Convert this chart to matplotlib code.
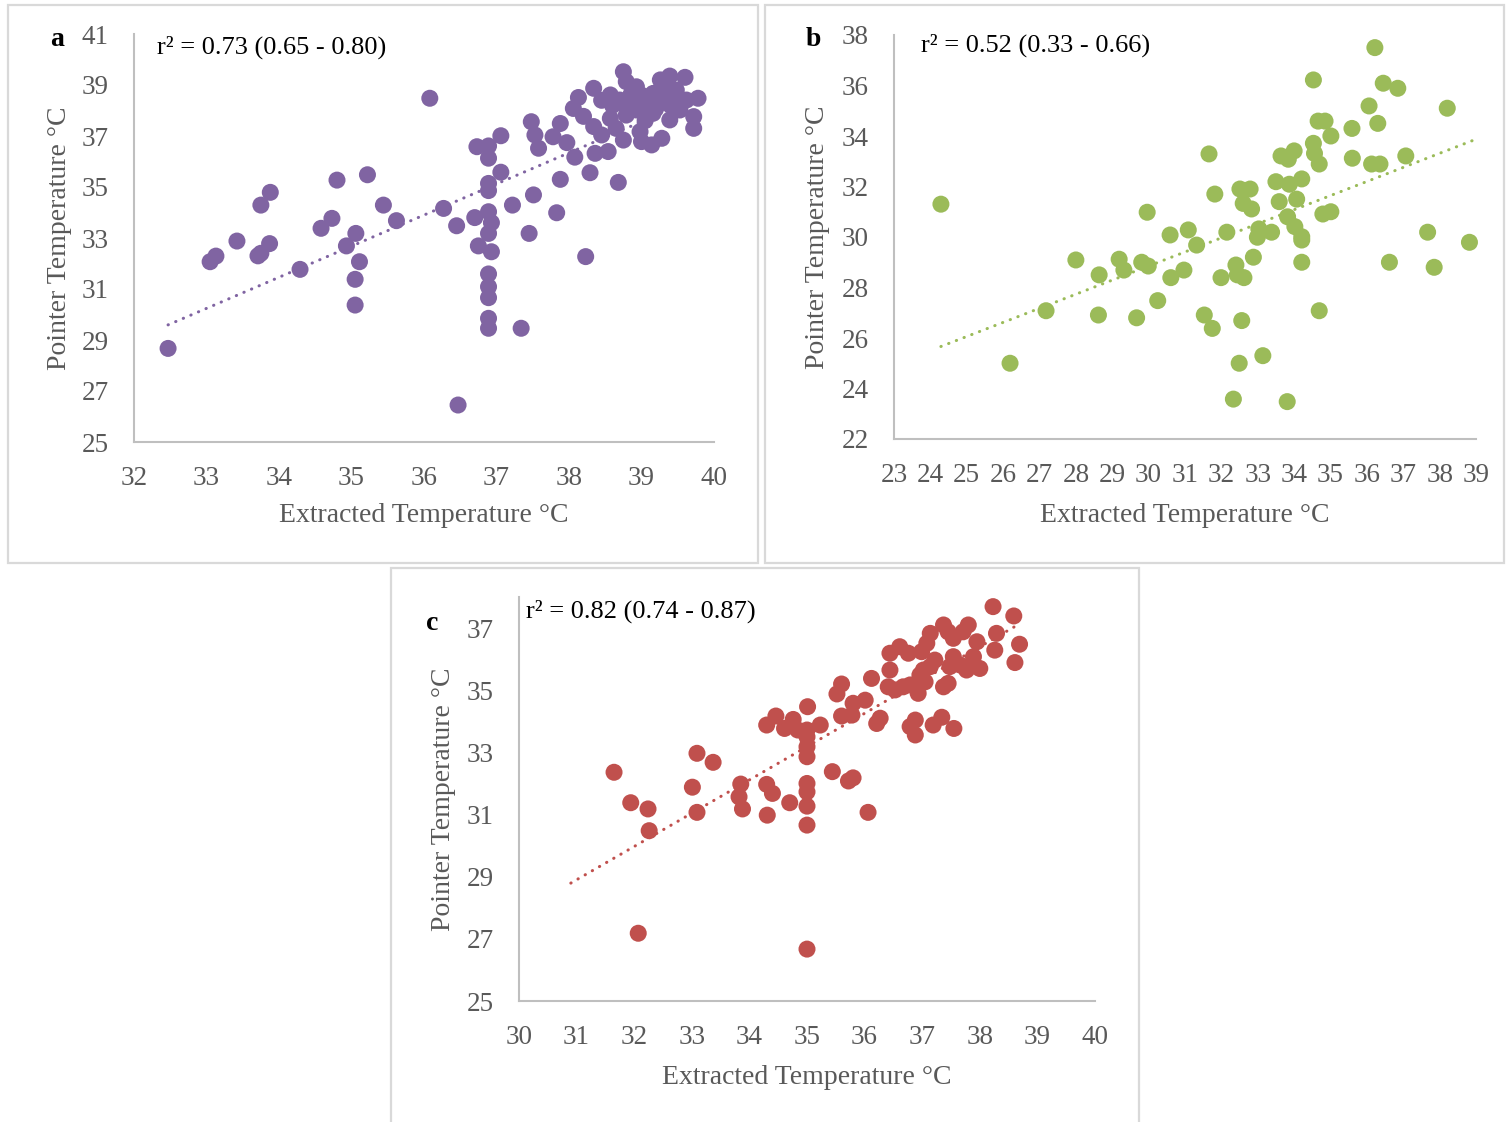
import matplotlib
matplotlib.use("Agg")
import matplotlib.pyplot as plt
from matplotlib.patches import Rectangle
import numpy as np

plt.rcParams['font.family'] = ['Liberation Serif', 'DejaVu Serif']

# ---- panel a: purple ----
a_x = [32.47, 33.05, 33.13, 33.42, 33.75, 33.88, 33.71, 33.75, 33.87, 34.29,
       34.58, 34.73, 34.80, 35.22, 35.44, 35.62, 35.06, 34.93, 35.11, 35.05,
       35.05, 36.08, 36.27, 36.45, 36.47, 36.73, 36.89, 36.89, 37.06, 37.06,
       36.89, 36.89, 36.70, 36.89, 36.93, 36.89, 36.75, 36.93, 36.89, 36.89,
       36.89, 36.89, 36.89, 37.34, 37.22, 37.51, 37.83, 37.45, 38.23, 37.88,
       38.68, 37.48, 37.53, 37.58, 37.78, 37.88, 37.97, 38.08, 38.29, 38.36,
       38.54, 38.06, 38.13, 38.34, 38.20, 38.34, 38.45, 38.75, 38.79, 38.57,
       38.57, 38.75, 38.98, 39.00, 39.14, 39.28, 38.93, 39.12, 39.26, 39.39,
       39.60, 39.48, 39.62, 39.78, 39.72, 39.72, 39.39, 39.07, 38.89, 39.16,
       38.93, 38.70, 39.30, 39.53, 39.16, 38.79, 39.00, 39.20, 38.80, 39.40,
       38.60, 38.85, 39.05, 38.65, 39.35, 39.50, 38.45]
a_y = [28.67, 32.07, 32.29, 32.88, 34.29, 34.79, 32.30, 32.40, 32.78, 31.77,
       33.38, 33.77, 35.27, 35.48, 34.29, 33.68, 33.18, 32.69, 32.07, 31.38,
       30.37, 38.48, 34.16, 33.48, 26.45, 36.58, 36.61, 36.13, 37.01, 35.58,
       35.14, 34.86, 33.80, 34.03, 33.60, 33.18, 32.69, 32.46, 31.59, 31.09,
       30.66, 29.85, 29.46, 29.46, 34.29, 34.69, 33.99, 33.18, 32.27, 35.30,
       35.18, 37.56, 37.04, 36.52, 36.97, 37.49, 36.74, 36.17, 35.56, 36.32,
       36.39, 38.08, 38.51, 38.87, 37.77, 37.37, 37.04, 39.52, 39.13, 38.61,
       37.69, 36.84, 37.17, 36.78, 36.65, 36.91, 38.02, 37.95, 39.20, 39.35,
       39.30, 38.80, 38.41, 38.48, 37.76, 37.30, 37.63, 38.28, 38.35, 38.67,
       38.93, 38.41, 38.41, 38.02, 37.89, 37.82, 38.60, 38.10, 38.10, 38.20,
       38.20, 38.60, 37.60, 37.30, 38.90, 38.50, 38.40]

# ---- panel b: green ----
b_x = [24.29, 26.19, 28.00, 27.18, 28.64, 28.62, 29.19, 29.32, 29.81, 29.99,
       29.67, 29.96, 30.59, 30.25, 30.61, 30.97, 31.09, 31.32, 31.66, 31.82,
       32.15, 31.99, 31.53, 31.75, 32.40, 32.44, 32.62, 32.49, 32.33, 32.56,
       33.14, 33.81, 32.88, 32.51, 32.79, 32.60, 32.83, 33.03, 32.99, 33.38,
       33.50, 33.59, 33.64, 33.84, 34.00, 33.87, 34.21, 34.07, 33.82, 34.02,
       34.21, 34.21, 34.21, 34.53, 34.53, 34.56, 34.69, 34.66, 34.85, 35.01,
       34.79, 35.01, 34.69, 35.59, 35.60, 36.06, 36.22, 36.30, 36.13, 36.36,
       36.45, 36.85, 37.07, 36.62, 37.67, 37.85, 38.21, 38.82]
b_y = [31.30, 25.00, 29.09, 27.08, 28.50, 26.91, 29.12, 28.69, 29.00, 28.85,
       26.80, 30.98, 30.08, 27.48, 28.39, 28.69, 30.28, 29.68, 33.29, 31.70,
       30.19, 28.39, 26.91, 26.38, 28.89, 28.50, 28.39, 25.00, 23.58, 26.69,
       25.30, 23.48, 29.20, 31.90, 31.90, 31.33, 31.11, 30.32, 29.99, 30.19,
       32.19, 31.40, 33.21, 33.08, 33.41, 32.09, 32.30, 31.50, 30.80, 30.41,
       30.01, 29.88, 29.00, 36.22, 33.71, 33.31, 32.89, 34.59, 34.59, 34.00,
       30.91, 31.00, 27.08, 34.30, 33.12, 35.19, 37.50, 34.50, 32.89, 32.89,
       36.09, 35.89, 33.21, 29.00, 30.19, 28.80, 35.10, 29.79]

# ---- panel c: red ----
c_x = [31.65, 31.94, 32.24, 32.26, 32.07, 33.09, 33.37, 33.01, 33.09, 33.85,
       33.82, 33.88, 34.30, 34.40, 34.31, 34.70, 34.30, 34.46, 34.61, 34.76,
       34.84, 35.01, 35.00, 35.00, 35.00, 35.00, 35.00, 35.00, 35.00, 35.00,
       35.00, 35.23, 35.44, 35.72, 35.80, 36.06, 35.52, 35.60, 35.60, 35.78,
       35.80, 36.01, 36.12, 36.21, 36.27, 36.41, 36.44, 36.44, 36.61, 36.76,
       36.53, 36.67, 36.79, 36.93, 36.96, 37.05, 36.79, 36.88, 36.88, 37.19,
       37.34, 37.55, 37.37, 37.45, 36.99, 37.08, 37.14, 37.22, 37.02, 37.14,
       37.37, 37.45, 37.54, 37.71, 37.80, 37.95, 38.00, 37.54, 37.66, 37.77,
       37.89, 37.48, 38.26, 38.29, 38.23, 38.59, 38.69, 38.61]
c_y = [32.36, 31.38, 31.18, 30.48, 27.18, 32.97, 32.68, 31.88, 31.07, 31.98,
       31.57, 31.18, 31.97, 31.68, 30.98, 31.38, 33.88, 34.17, 33.77, 34.06,
       33.72, 34.47, 33.72, 33.18, 32.86, 32.00, 31.73, 31.27, 30.66, 26.67,
       33.50, 33.88, 32.38, 32.08, 32.18, 31.07, 34.88, 35.20, 34.17, 34.20,
       34.58, 34.68, 35.38, 33.93, 34.10, 35.11, 35.65, 36.19, 36.40, 36.19,
       35.01, 35.11, 35.17, 34.90, 35.49, 35.27, 33.83, 34.04, 33.56, 33.88,
       34.13, 33.77, 35.11, 35.22, 36.24, 36.51, 36.83, 35.97, 35.65, 35.76,
       37.10, 36.88, 36.67, 36.88, 37.10, 36.56, 35.70, 36.08, 35.81, 35.65,
       36.08, 35.76, 36.29, 36.83, 37.69, 37.39, 36.48, 35.89]

# linear trendlines: (slope, intercept, x start, x end)
a_trend = (1.220, -10.02, 32.47, 39.78)
b_trend = (0.558, 12.11, 24.29, 39.00)
c_trend = (1.071, -4.30, 30.90, 38.69)

a_r2 = "r² = 0.73 (0.65 - 0.80)"
b_r2 = "r² = 0.52 (0.33 - 0.66)"
c_r2 = "r² = 0.82 (0.74 - 0.87)"

W, H = 1506, 1122
fig = plt.figure(figsize=(W / 100, H / 100), dpi=100)

GRAY = "#595959"
SPINE = "#BFBFBF"
FRAME = "#D9D9D9"


def px_rect(l, t, r, b):
    return [l / W, 1 - b / H, (r - l) / W, (b - t) / H]


# outer frames of each chart
for (l, t, r, b) in [(8, 5, 758, 563), (765, 5, 1504, 563), (391, 568, 1139, 1125)]:
    fig.patches.append(Rectangle((l / W, 1 - b / H), (r - l) / W, (b - t) / H,
                                 transform=fig.transFigure, fill=False,
                                 edgecolor=FRAME, linewidth=1.6))


def panel(rect, xs, ys, color, trend, xlim, ylim, xticks, yticks,
          letter, letter_xy, r2, r2_xy, xlabel_y, ylabel_x):
    ax = fig.add_axes(px_rect(*rect))
    l, t, r, b = rect
    slope, icpt, x0, x1 = trend
    tx = np.array([x0, x1])
    ax.plot(tx, slope * tx + icpt, color=color, lw=2.2,
            linestyle=(0, (0.1, 2.6)), dash_capstyle='round', zorder=2)
    ax.scatter(xs, ys, s=150, color=color, edgecolors='none', zorder=3,
               clip_on=False)
    ax.set_xlim(*xlim)
    ax.set_ylim(*ylim)
    ax.set_xticks(xticks)
    ax.set_yticks(yticks)
    ax.tick_params(length=0, labelsize=19.5, colors=GRAY)
    ax.tick_params(axis='x', pad=17)
    ax.tick_params(axis='y', pad=18)
    for s in ('top', 'right'):
        ax.spines[s].set_visible(False)
    for s in ('left', 'bottom'):
        ax.spines[s].set_color(SPINE)
        ax.spines[s].set_linewidth(1.5)
    ax.set_xlabel("Extracted Temperature °C", fontsize=20, color=GRAY)
    ax.xaxis.set_label_coords(0.5, -(xlabel_y - b) / (b - t))
    ax.xaxis.label.set_va('center')
    ax.set_ylabel("Pointer Temperature °C", fontsize=20, color=GRAY)
    ax.yaxis.set_label_coords(-(l - ylabel_x) / (r - l), 0.5)
    ax.yaxis.label.set_va('center')
    fig.text(letter_xy[0] / W, 1 - letter_xy[1] / H, letter, fontsize=20,
             fontweight='bold', ha='center', va='center', color='black')
    fig.text(r2_xy[0] / W, 1 - r2_xy[1] / H, r2, fontsize=19, ha='left',
             va='center', color='black')
    return ax


panel((134, 34, 714, 442), a_x, a_y, "#8064A2", a_trend, (32, 40), (25, 41),
      range(32, 41), range(25, 42, 2), "a", (57, 40), a_r2, (157, 47), 516, 60)
panel((894, 35, 1476, 439), b_x, b_y, "#9BBB59", b_trend, (23, 39), (22, 38),
      range(23, 40), range(22, 39, 2), "b", (813, 40), b_r2, (921, 45), 516, 817)
panel((519, 597, 1095, 1001), c_x, c_y, "#C0504D", c_trend, (30, 40), (25, 38),
      range(30, 41), range(25, 38, 2), "c", (432, 624), c_r2, (526, 611), 1078, 443)

fig.savefig("out.png", dpi=100)
